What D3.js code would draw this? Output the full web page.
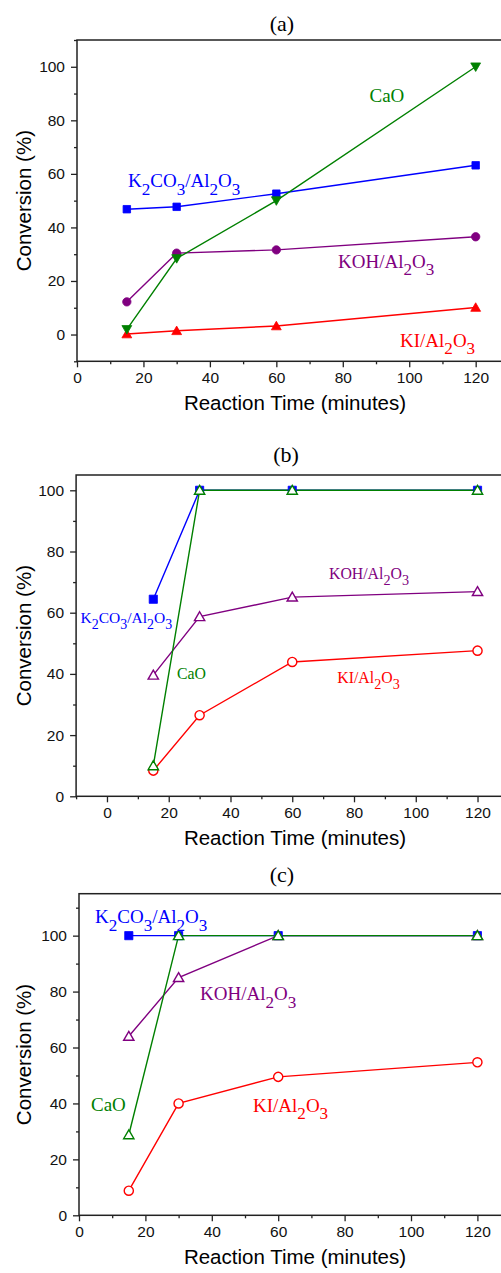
<!DOCTYPE html>
<html><head><meta charset="utf-8">
<script src="https://cdn.jsdelivr.net/npm/d3@7"></script>
<style>body{margin:0;background:#fff}svg{display:block}</style>
</head><body>
<svg id="c" width="501" height="1273"></svg>
<script>
const times = [15, 30, 60, 120];
// Panel (a)
const a_K2CO3 = [46.8, 47.7, 52.6, 63.2];
const a_CaO   = [1.9, 28.4, 50.0, 100];
const a_KOH   = [12.2, 30.4, 31.6, 36.5];
const a_KI    = [0.2, 1.4, 3.2, 10.1];
// Panel (b)
const b_K2CO3 = [64.4, 100, 100, 100];
const b_CaO   = [10.0, 100, 100, 100];
const b_KOH   = [39.6, 58.7, 65.1, 66.9];
const b_KI    = [8.4, 26.5, 43.9, 47.6];
// Panel (c)
const c_K2CO3 = [100, 100, 100, 100];
const c_CaO   = [28.8, 100, 100, 100];
const c_KOH   = [64.0, 85.0, 100, 100];
const c_KI    = [8.8, 40.0, 49.5, 54.7];

const xTicks = [0, 20, 40, 60, 80, 100, 120];
const yTicks = [0, 20, 40, 60, 80, 100];
const panelTitles = ["(a)", "(b)", "(c)"];
const xTitle = "Reaction Time (minutes)";
const yTitle = "Conversion (%)";

const colors = {K2CO3:"#0000ff", CaO:"#008000", KOH:"#800080", KI:"#ff0000"};

const svg = d3.select("#c");

const panels = [
  {title:panelTitles[0], box:{l:77, r:508.9, t:40, b:361.3}, xd:[0,130], yd:[-10,110],
   xMinor:d3.range(10,130,20), yMinor:d3.range(-10,111,10).filter(v=>v%20!==0),
   titleX:282, titleY:31,
   series:[
     {name:"KI", vals:a_KI, sym:"tri", fill:true},
     {name:"KOH", vals:a_KOH, sym:"circle", fill:true},
     {name:"K2CO3", vals:a_K2CO3, sym:"square", fill:true},
     {name:"CaO", vals:a_CaO, sym:"dtri", fill:true}
   ],
   labels:[
     {s:"CaO", c:"CaO", x:369.5, y:102, fs:19},
     {s:"K|2|CO|3|/Al|2|O|3", c:"K2CO3", x:128, y:187, fs:19},
     {s:"KOH/Al|2|O|3", c:"KOH", x:338, y:267.5, fs:19},
     {s:"KI/Al|2|O|3", c:"KI", x:400, y:346.5, fs:19}
   ], ms:1},
  {title:panelTitles[1], box:{l:76.1, r:508.4, t:475, b:796.3}, xd:[-10,130], yd:[0,105],
   xMinor:d3.range(-10,130,20), yMinor:d3.range(10,100,20),
   titleX:286, titleY:462,
   series:[
     {name:"K2CO3", vals:b_K2CO3, sym:"square", fill:true},
     {name:"KOH", vals:b_KOH, sym:"tri", fill:false},
     {name:"KI", vals:b_KI, sym:"circle", fill:false},
     {name:"CaO", vals:b_CaO, sym:"tri", fill:false}
   ],
   labels:[
     {s:"KOH/Al|2|O|3", c:"KOH", x:329, y:578.5, fs:15.8},
     {s:"K|2|CO|3|/Al|2|O|3", c:"K2CO3", x:80.5, y:622.5, fs:15.5},
     {s:"CaO", c:"CaO", x:177, y:678.5, fs:15.8},
     {s:"KI/Al|2|O|3", c:"KI", x:337.3, y:682.5, fs:15.8}
   ], ms:1.2},
  {title:panelTitles[2], box:{l:79, r:510.6, t:893.7, b:1215.3}, xd:[0,130], yd:[0,115],
   xMinor:d3.range(10,130,20), yMinor:d3.range(10,115,20),
   titleX:282, titleY:882,
   series:[
     {name:"K2CO3", vals:c_K2CO3, sym:"square", fill:true},
     {name:"KOH", vals:c_KOH, sym:"tri", fill:false},
     {name:"KI", vals:c_KI, sym:"circle", fill:false},
     {name:"CaO", vals:c_CaO, sym:"tri", fill:false}
   ],
   labels:[
     {s:"K|2|CO|3|/Al|2|O|3", c:"K2CO3", x:95, y:923, fs:19},
     {s:"KOH/Al|2|O|3", c:"KOH", x:200, y:1000, fs:19},
     {s:"CaO", c:"CaO", x:91, y:1110.5, fs:19},
     {s:"KI/Al|2|O|3", c:"KI", x:253, y:1111.5, fs:19}
   ], ms:1.2}
];

panels.forEach(p => {
  const x = d3.scaleLinear().domain(p.xd).range([p.box.l, p.box.r]);
  const y = d3.scaleLinear().domain(p.yd).range([p.box.b, p.box.t]);
  const g = svg.append("g");

  // frame
  g.append("rect").attr("x", p.box.l).attr("y", p.box.t)
    .attr("width", p.box.r - p.box.l).attr("height", p.box.b - p.box.t)
    .attr("fill","none").attr("stroke","#222").attr("stroke-width",1.5);

  // axes
  const xAx = g.append("g").attr("transform", `translate(0,${p.box.b})`)
    .call(d3.axisBottom(x).tickValues(xTicks).tickSize(6).tickPadding(5).tickFormat(d3.format("d")));
  const xMin = g.append("g").attr("transform", `translate(0,${p.box.b})`)
    .call(d3.axisBottom(x).tickValues(p.xMinor).tickSize(3).tickFormat(""));
  const yAx = g.append("g").attr("transform", `translate(${p.box.l},0)`)
    .call(d3.axisLeft(y).tickValues(yTicks).tickSize(6).tickPadding(6).tickFormat(d3.format("d")));
  const yMin = g.append("g").attr("transform", `translate(${p.box.l},0)`)
    .call(d3.axisLeft(y).tickValues(p.yMinor).tickSize(3).tickFormat(""));
  [xAx,xMin,yAx,yMin].forEach(a => {
    a.select(".domain").remove();
    a.selectAll("line").attr("stroke","#222").attr("stroke-width",1.3);
    a.selectAll("text").attr("font-family","'Liberation Sans', Arial, sans-serif")
      .attr("font-size",15.5).attr("fill","#111");
  });

  // titles
  g.append("text").attr("x", p.titleX).attr("y", p.titleY).attr("text-anchor","middle")
    .attr("font-family","'Liberation Serif','Times New Roman',serif").attr("font-size",22)
    .text(p.title);
  g.append("text").attr("x", 295).attr("y", p.box.b + 49).attr("text-anchor","middle")
    .attr("font-family","'Liberation Sans', Arial, sans-serif").attr("font-size",20.5)
    .text(xTitle);
  const cy = (p.box.t + p.box.b)/2;
  g.append("text").attr("transform", `translate(31,${cy}) rotate(-90)`).attr("text-anchor","middle")
    .attr("font-family","'Liberation Sans', Arial, sans-serif").attr("font-size",20.5)
    .text(yTitle);

  // series
  const line = d3.line().x((d,i)=>x(times[i])).y(d=>y(d));
  p.series.forEach(s => {
    const col = colors[s.name];
    g.append("path").datum(s.vals).attr("d", line)
      .attr("fill","none").attr("stroke", col).attr("stroke-width",1.4);
  });
  p.series.forEach(s => {
    const col = colors[s.name];
    let gen, rot = 0;
    if (s.sym === "square") gen = d3.symbol(d3.symbolSquare, 56*p.ms);
    else if (s.sym === "circle") gen = d3.symbol(d3.symbolCircle, s.fill ? 55 : 66);
    else { gen = d3.symbol(d3.symbolTriangle, s.fill ? 42 : 46); if (s.sym === "dtri") rot = 180; }
    g.selectAll(null).data(s.vals).join("path")
      .attr("d", gen)
      .attr("transform", (d,i)=>`translate(${x(times[i])},${y(d) + (s.sym==="tri"?1:0) + (s.sym==="dtri"?-1:0)}) rotate(${rot})`)
      .attr("fill", s.fill ? col : "#fff")
      .attr("stroke", col).attr("stroke-width", s.fill ? 0.8 : 1.4);
  });

  // labels with subscripts
  p.labels.forEach(L => {
    const t = g.append("text").attr("x", L.x).attr("y", L.y)
      .attr("font-family","'Liberation Serif','Times New Roman',serif")
      .attr("font-size", L.fs).attr("fill", colors[L.c]);
    const parts = L.s.split("|");
    const shift = L.fs * 0.4;
    parts.forEach((part, i) => {
      const sub = i % 2 === 1;
      const ts = t.append("tspan").text(part);
      if (sub) ts.attr("font-size", L.fs*0.9).attr("dy", shift);
      else if (i > 0) ts.attr("dy", -shift);
    });
  });
});
</script>
</body></html>
